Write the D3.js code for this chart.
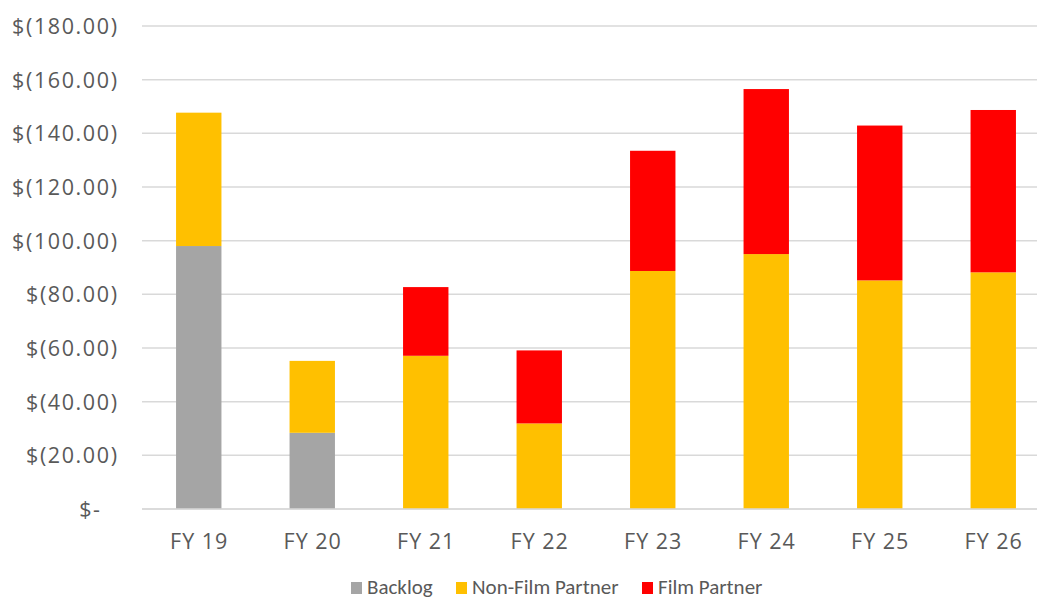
<!DOCTYPE html>
<html>
<head>
<meta charset="utf-8">
<script src="https://cdn.jsdelivr.net/npm/d3@7"></script>
<style>
  html, body { margin: 0; padding: 0; background: #fff; }
  svg { display: block; font-family: Carlito, Calibri, Lato, sans-serif; }
</style>
</head>
<body>
<svg id="chart" width="1037" height="601"></svg>
<script>
// Fiscal years on the category axis
const years = ["FY 19", "FY 20", "FY 21", "FY 22", "FY 23", "FY 24", "FY 25", "FY 26"];

// Stacked series values (in dollars, shown as negatives in parentheses)
const backlog        = [98.0, 28.4, 0, 0, 0, 0, 0, 0];
const nonFilmPartner = [49.7, 26.8, 57.1, 31.9, 88.7, 95.0, 85.2, 88.2];
const filmPartner    = [0, 0, 25.6, 27.2, 44.8, 61.5, 57.7, 60.5];

const seriesNames = ["Backlog", "Non-Film Partner", "Film Partner"];
const seriesColors = ["#A5A5A5", "#FFC000", "#FF0000"];

const yTicks = [0, 20, 40, 60, 80, 100, 120, 140, 160, 180];

const rows = years.map((y, i) => ({
  year: y,
  "Backlog": backlog[i],
  "Non-Film Partner": nonFilmPartner[i],
  "Film Partner": filmPartner[i]
}));

const svg = d3.select("#chart");
const axisFont = "'Open Sans', Lato, sans-serif";
const legendFont = "Carlito, Calibri, Lato, sans-serif";
const textColor = "#595959";
const gridColor = "#D9D9D9";

const x = d3.scaleBand()
  .domain(years)
  .range([142, 1050])
  .paddingInner(0.6)
  .paddingOuter(0.3);

const y = d3.scaleLinear()
  .domain([0, 180])
  .range([509, 26]);

// Horizontal gridlines
svg.append("g")
  .selectAll("line")
  .data(yTicks)
  .join("line")
  .attr("x1", 142)
  .attr("x2", 1050)
  .attr("y1", d => y(d))
  .attr("y2", d => y(d))
  .attr("stroke", gridColor)
  .attr("stroke-width", 1.5);

// Y axis labels in accounting format
const yAxis = d3.axisLeft(y)
  .tickValues(yTicks)
  .tickSize(0)
  .tickPadding(0)
  .tickFormat(d => d === 0 ? "$-" : `$(${d3.format(".2f")(d)})`);

const ySpacing = 1.6;
const yg = svg.append("g")
  .attr("transform", "translate(117,0)")
  .call(yAxis)
  .attr("font-family", axisFont)
  .attr("font-size", 21.5);
yg.select(".domain").remove();
yg.selectAll("text")
  .attr("fill", textColor)
  .attr("letter-spacing", ySpacing)
  .attr("dy", "0.35em")
  .attr("x", d => (d === 0 ? -17 : 0) + ySpacing);

// Stacked bars
const stack = d3.stack().keys(seriesNames);
const layers = stack(rows);

svg.append("g")
  .selectAll("g")
  .data(layers)
  .join("g")
  .attr("fill", (d, i) => seriesColors[i])
  .selectAll("rect")
  .data(d => d.filter(s => s[1] - s[0] > 0))
  .join("rect")
  .attr("x", d => x(d.data.year))
  .attr("width", x.bandwidth())
  .attr("y", d => y(d[1]))
  .attr("height", d => y(d[0]) - y(d[1]));

// Baseline
svg.append("line")
  .attr("x1", 142).attr("x2", 1050)
  .attr("y1", y(0)).attr("y2", y(0))
  .attr("stroke", gridColor)
  .attr("stroke-width", 1.5);

// X axis labels
const xSpacing = 1;
const xAxis = d3.axisBottom(x).tickSize(0).tickPadding(0);
const xg = svg.append("g")
  .attr("transform", `translate(0,${y(0)})`)
  .call(xAxis)
  .attr("font-family", axisFont)
  .attr("font-size", 21.5);
xg.select(".domain").remove();
xg.selectAll("text")
  .attr("fill", textColor)
  .attr("letter-spacing", xSpacing)
  .attr("x", xSpacing / 2)
  .attr("y", 32)
  .attr("dy", "0.35em");

// Legend
const legendItems = [
  { name: seriesNames[0], color: seriesColors[0], x: 351 },
  { name: seriesNames[1], color: seriesColors[1], x: 456 },
  { name: seriesNames[2], color: seriesColors[2], x: 642 }
];
const lg = svg.append("g").selectAll("g")
  .data(legendItems)
  .join("g")
  .attr("transform", d => `translate(${d.x},587)`);
lg.append("rect")
  .attr("x", 0).attr("y", -5)
  .attr("width", 11).attr("height", 12)
  .attr("fill", d => d.color);
lg.append("text")
  .attr("x", 16)
  .attr("dy", "0.35em")
  .attr("font-family", legendFont)
  .attr("font-size", 21)
  .attr("fill", textColor)
  .text(d => d.name);
</script>
</body>
</html>
